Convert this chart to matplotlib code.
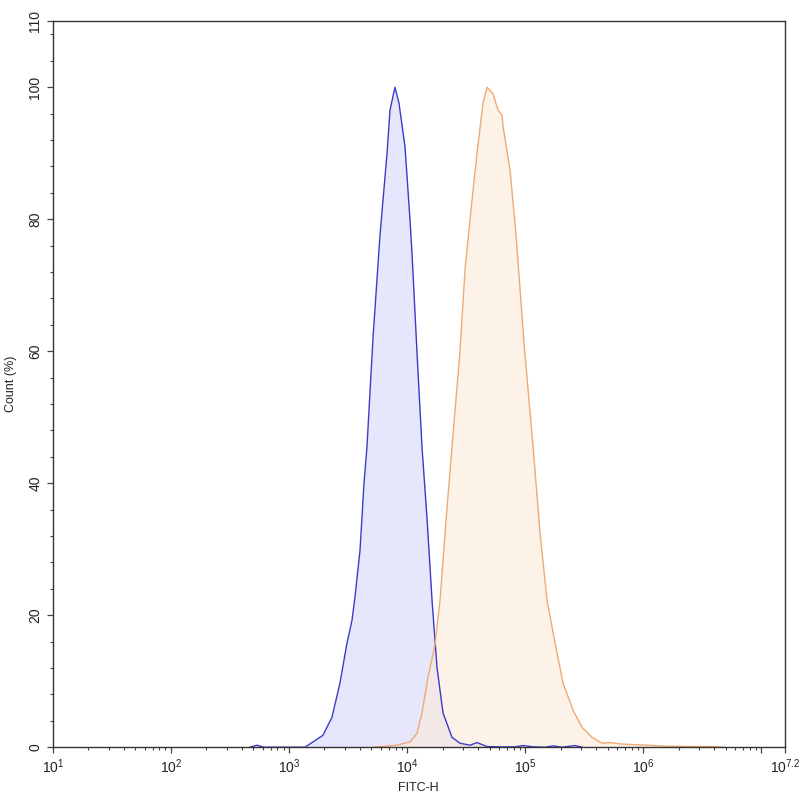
import numpy as np
import matplotlib
matplotlib.use("Agg")
import matplotlib.pyplot as plt
from matplotlib.ticker import FixedLocator, FixedFormatter, LogLocator, MultipleLocator

plt.rcParams['font.family'] = ['Liberation Sans', 'DejaVu Sans']
plt.rcParams['mathtext.fontset'] = 'custom'
plt.rcParams['mathtext.rm'] = 'Liberation Sans'

# control histogram (log10 of FITC-H, count %)
ctrl_log = [2.669, 2.729, 2.788, 3.136, 3.288, 3.364, 3.432, 3.492, 3.534, 3.559,
            3.602, 3.636, 3.661, 3.712, 3.771, 3.831, 3.856, 3.898, 3.932, 3.983,
            4.025, 4.042, 4.085, 4.127, 4.169, 4.212, 4.254, 4.305, 4.381, 4.449,
            4.534, 4.593, 4.678, 4.788, 4.915, 4.983, 5.068, 5.169, 5.237, 5.314,
            5.424, 5.483]
ctrl_cnt = [0, 0.3, 0, 0, 1.8, 4.5, 9.7, 15.8, 19.2, 22.7,
            29.8, 40, 45.5, 62, 77.5, 90, 96.5, 100, 97.6, 91,
            80, 75, 59.7, 45.5, 34.8, 22.3, 12.1, 5.2, 1.5, 0.6,
            0.3, 0.7, 0.1, 0.05, 0.05, 0.25, 0.05, 0, 0.2, 0,
            0.25, 0]

# stained sample histogram
samp_log = [3.712, 3.915, 4.025, 4.085, 4.127, 4.178, 4.237, 4.280, 4.322, 4.381,
            4.449, 4.492, 4.534, 4.593, 4.644, 4.678, 4.729, 4.771, 4.805, 4.814,
            4.873, 4.924, 4.992, 5.068, 5.127, 5.186, 5.254, 5.322, 5.407, 5.483,
            5.568, 5.653, 5.720, 5.805, 5.915, 6.042, 6.203, 6.398, 6.568, 6.695]
samp_cnt = [0, 0.3, 0.8, 2.1, 5.2, 10.6, 15.5, 22.3, 32.4, 45.5,
            60, 72.5, 80, 90, 97.6, 100, 99, 96.5, 95.8, 94,
            87.4, 77.5, 61, 45.5, 32.4, 22.3, 15.8, 9.7, 5.6, 3,
            1.5, 0.6, 0.7, 0.5, 0.4, 0.3, 0.15, 0.1, 0.1, 0]

xtick_pos = [1, 2, 3, 4, 5, 6, 7.2]
xtick_lab = ['$10^{1}$', '$10^{2}$', '$10^{3}$', '$10^{4}$', '$10^{5}$', '$10^{6}$', '$10^{7.2}$']
ytick_pos = [0, 20, 40, 60, 80, 100, 110]

fig = plt.figure(figsize=(8, 8), dpi=100)
ax = fig.add_axes([0.066, 0.066, 0.915, 0.9075])

cx = 10 ** np.array(ctrl_log)
sx = 10 ** np.array(samp_log)
ax.fill_between(cx, ctrl_cnt, 0, color='#d6d8fa', alpha=0.6, lw=0)
ax.plot(cx, ctrl_cnt, color='#3b3bc8', lw=1.0)
ax.fill_between(sx, samp_cnt, 0, color='#fde9d6', alpha=0.55, lw=0)
ax.plot(sx, samp_cnt, color='#eeaa72', lw=1.0)

ax.set_xscale('log')
ax.set_xlim(10, 10 ** 7.2)
ax.set_ylim(0, 110)

ax.xaxis.set_major_locator(FixedLocator([10 ** p for p in xtick_pos] + [1e7]))
ax.xaxis.set_major_formatter(FixedFormatter(xtick_lab[:-1] + [xtick_lab[-1], '']))
ax.xaxis.set_minor_locator(LogLocator(base=10, subs=np.arange(2, 10), numticks=20))
ax.xaxis.set_minor_formatter(FixedFormatter([]))

ax.yaxis.set_major_locator(FixedLocator(ytick_pos))
ax.yaxis.set_minor_locator(MultipleLocator(4))

ax.tick_params(axis='both', which='major', direction='out', length=4, width=0.9,
               color='#444444', labelsize=10, labelcolor='#222222')
ax.tick_params(axis='both', which='minor', direction='out', length=2.5, width=0.8,
               color='#444444')
for lab in ax.get_yticklabels():
    lab.set_rotation(90)
    lab.set_va('center')

for s in ax.spines.values():
    s.set_color('#333333')
    s.set_linewidth(1.0)

ax.set_xlabel('FITC-H', fontsize=9, color='#222222', labelpad=4)
ax.set_ylabel('Count (%)', fontsize=9, color='#222222', labelpad=8)

fig.savefig('out.png', dpi=100)
